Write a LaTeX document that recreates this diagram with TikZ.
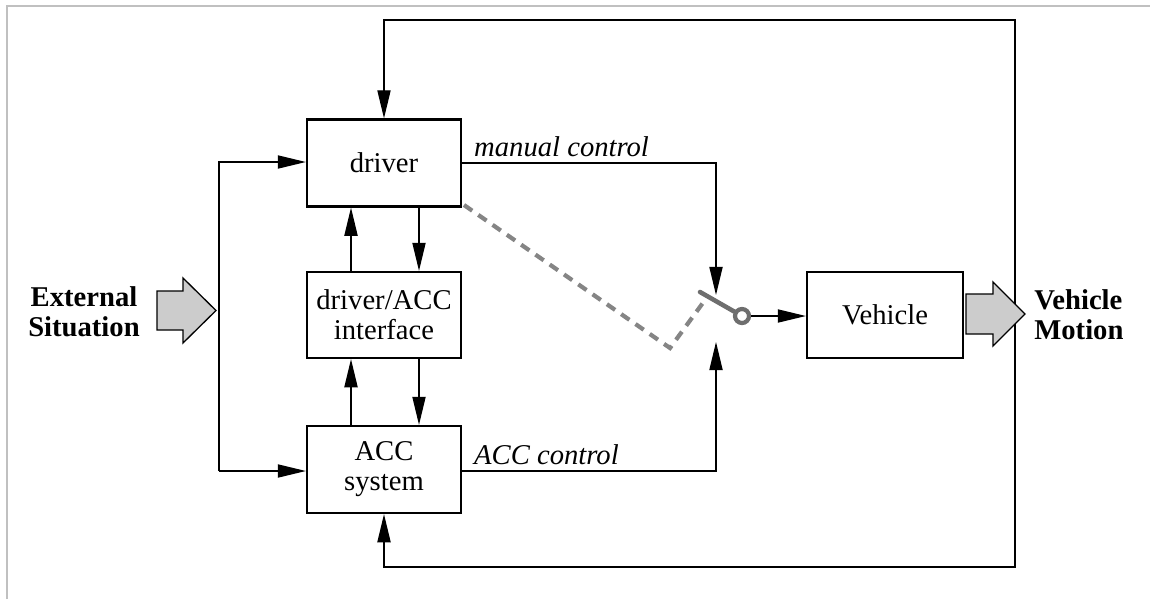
\documentclass[tikz,border=0pt]{standalone}
\usepackage{fontspec}
\setmainfont{Liberation Serif}
\usetikzlibrary{arrows.meta}
\definecolor{framegray}{HTML}{C0C0C0}
\definecolor{levergray}{HTML}{6E6E6E}
\definecolor{linkgray}{HTML}{858585}
\definecolor{bigfill}{HTML}{CCCCCC}
\tikzset{
  every picture/.style={line join=miter, >={Triangle[length=16pt,width=7.5pt]}},
  txt/.style={font=\fontsize{16.3}{17}\selectfont},
  blockbox/.style={draw, line width=1.3pt, minimum width=3.08cm, minimum height=1.74cm, inner sep=0pt, align=center, txt},
  sig/.style={line width=0.75pt},
  ctrllbl/.style={font=\fontsize{16.3}{17}\selectfont\itshape, anchor=south west, inner sep=0pt, xshift=6.5pt, yshift=3.4pt},
  biglbl/.style={font=\fontsize{16.3}{17}\selectfont\bfseries, inner sep=0pt},
  bigarrow/.style={draw, fill=bigfill, line width=0.75pt},
  linkage/.style={draw=linkgray, line width=2.4pt, dash pattern=on 5.7pt off 4.2pt},
}

\begin{document}
\begin{tikzpicture}[x=0.02cm, y=-0.02cm]
\useasboundingbox (0,0) rectangle (1150,599);
\draw[framegray, line width=1.2pt] (7,599) -- (7,6) -- (1150,6);

\node[blockbox] (drv) at (384,163) {driver};
\node[blockbox, minimum height=1.72cm] (ifc) at (384,315) {driver/ACC\\interface};
\node[blockbox] (acc) at (384,469.5) {ACC\\system};
\node[blockbox, minimum width=3.12cm, minimum height=1.72cm] (veh) at (885,315) {Vehicle};

\node[biglbl, align=center] (ext) at (84,312) {External\\Situation};
\node[biglbl, align=left, anchor=west] (mot) at (1034,315) {Vehicle\\Motion};

\coordinate (inTop) at (219,162);
\coordinate (inBot) at (219,471);
\coordinate (fbNE) at (1015,20);
\coordinate (fbSE) at (1015,567);
\coordinate (colUp) at (351,0);
\coordinate (colDn) at (419,0);
\coordinate (swIn1) at (716,295);
\coordinate (swIn2) at (716,342);
\coordinate (levEnd) at (700,292);
\coordinate (lnkA) at (464,205);
\coordinate (lnkB) at (670,348);
\coordinate (lnkC) at (705,300);

\node[circle, draw=levergray, line width=2.4pt, minimum size=0.28cm, inner sep=0pt] (pivot) at (742,316) {};

\draw[sig,->] (inBot) -- (inTop) -- (inTop -| drv.west);
\draw[sig,->] (inBot) -- (inBot -| acc.west);
\draw[sig,<->] (drv.north) |- (fbNE) -- (fbSE) -| (acc.south);

\draw[sig,->] (ifc.north -| colUp) -- (drv.south -| colUp);
\draw[sig,->] (drv.south -| colDn) -- (ifc.north -| colDn);
\draw[sig,->] (acc.north -| colUp) -- (ifc.south -| colUp);
\draw[sig,->] (ifc.south -| colDn) -- (acc.north -| colDn);

\draw[sig,->] (drv.east) -| (swIn1) node[ctrllbl, pos=0] (manLbl) {manual control};
\draw[sig,->] (acc.east |- inBot) -| (swIn2) node[ctrllbl, pos=0] (accLbl) {ACC control};

\draw[linkage] (lnkA) -- (lnkB) -- (lnkC);
\draw[levergray, line width=2.6pt, line cap=round] (levEnd) -- (pivot);
\draw[sig,->] (pivot.east) -- (pivot.east -| veh.west);

\draw[bigarrow] (157,291) -- (183,291) -- (183,278) -- (216,310.5) -- (183,343) -- (183,330) -- (157,330) -- cycle;
\draw[bigarrow] (966,294) -- (993,294) -- (993,282) -- (1025,314) -- (993,346) -- (993,334) -- (966,334) -- cycle;
\end{tikzpicture}
\end{document}
